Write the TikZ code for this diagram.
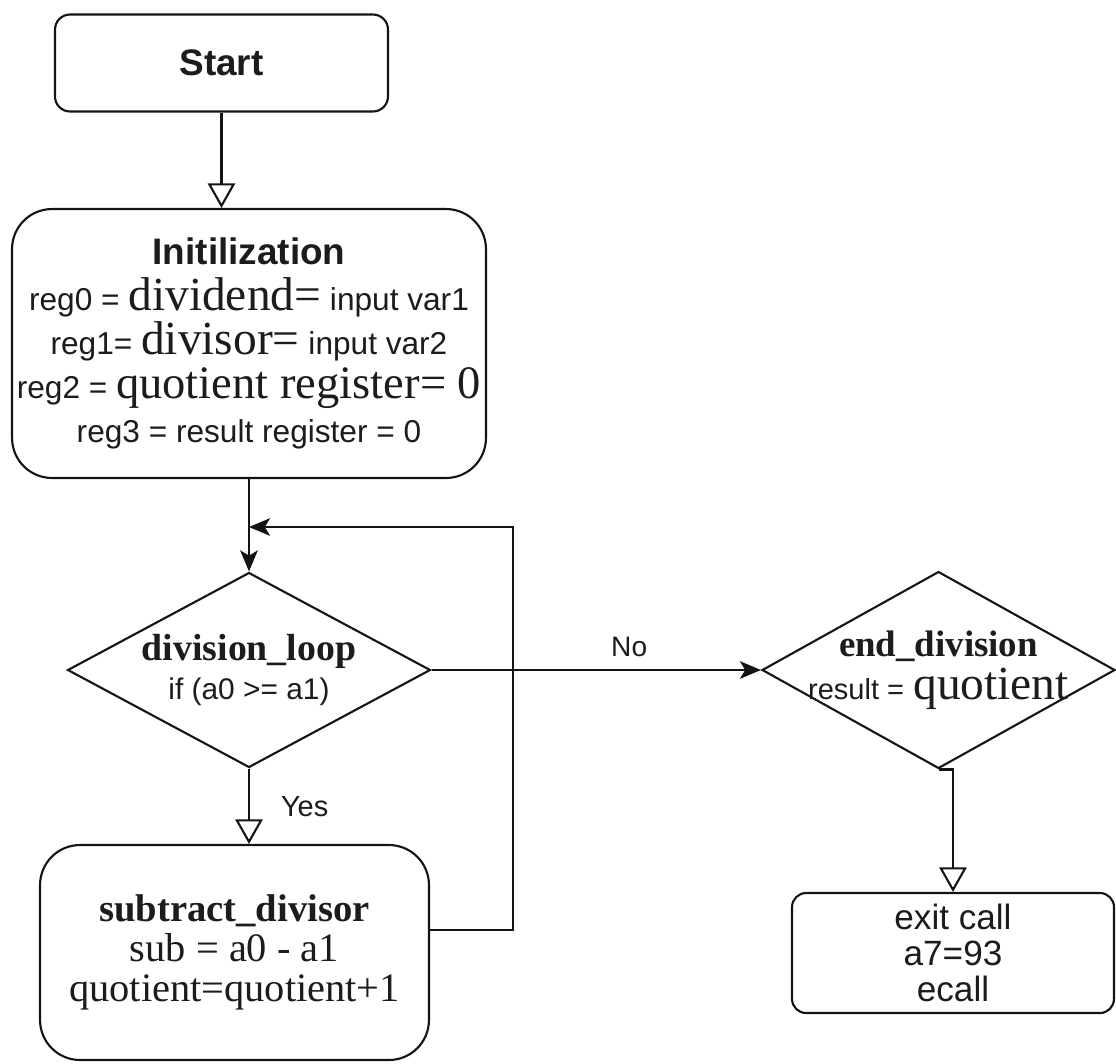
\documentclass[tikz,border=0pt]{standalone}
\usepackage{fontspec}
\setmainfont{Liberation Sans}
\newfontfamily\sans{Liberation Sans}
\newfontfamily\serif{Liberation Serif}
\usetikzlibrary{arrows.meta,shapes.geometric}
\newcommand\fsz[2]{\fontsize{#1}{#2}\selectfont}
\definecolor{txt}{RGB}{28,28,28}
\definecolor{ln}{RGB}{20,20,20}
\begin{document}
\begin{tikzpicture}[x=0.02cm,y=-0.02cm,
  line width=1.2pt, draw=ln,
  box/.style={draw=ln, rectangle, line width=1.2pt, align=center, inner sep=0pt, text=txt},
  dia/.style={draw=ln, diamond, inner sep=0pt, line width=1.2pt},
  lbl/.style={inner sep=0pt, align=center, text=txt},
  oarrow/.style={-{Triangle[open,length=14pt,width=15.5pt]}},
  farrow/.style={-{Stealth[length=12pt,width=10pt,inset=3pt]}}]
\fill[white] (0,0) rectangle (1116,1063);
\useasboundingbox (0,0) rectangle (1116,1063);

% nodes
\node[box, rounded corners=0.3cm, minimum width=6.66cm, minimum height=1.94cm,
      font=\fsz{21}{25}\bfseries] (start) at (221.5,63) {Start};

\node[box, rounded corners=0.8cm, minimum width=9.48cm, minimum height=5.38cm,
      font=\fsz{18}{25}] (init) at (249,343.5)
  {{\fsz{21}{25}\bfseries Initilization}\\[1pt]
   reg0 = {\serif\fsz{27}{25}dividend=} input var1\\
   reg1= {\serif\fsz{27}{25}divisor=} input var2\\
   reg2 = {\serif\fsz{26.5}{25}quotient register= 0}\\
   reg3 = result register = 0};

\node[dia, minimum width=7.26cm, minimum height=3.9cm] (dl) at (249,670) {};
\node[lbl, font=\serif\fsz{21.5}{22}] (dlt) at (dl.center)
  {{\bfseries division\_loop}\\{\sans\fsz{17}{22}if (a0 >= a1)}};

\node[box, rounded corners=0.8cm, minimum width=7.78cm, minimum height=4.3cm,
      font=\serif\fsz{23}{22.7}] (sub) at (234.5,952.5)
  {{\bfseries\fsz{22}{22.7}subtract\_divisor}\\
   sub = a0 - a1\\
   quotient=quotient+1};

\node[dia, minimum width=7.06cm, minimum height=3.94cm] (ed) at (938.5,670) {};
\node[lbl, font=\serif\fsz{21}{24.5}] (edt) at (ed.center)
  {{\bfseries end\_division}\\{\sans\fsz{16.5}{24.5}result =} {\fsz{27}{24.5}quotient}};

\node[box, rounded corners=0.28cm, minimum width=6.44cm, minimum height=2.4cm,
      font=\fsz{20}{20.5}] (exit) at (953,953)
  {exit call\\a7=93\\ecall};

\coordinate (lp) at (513,527);

% connectors
\draw[oarrow] (start.south) -- (start.south |- init.north);
\draw[farrow] (init.south) -- (dl.north);
\draw[oarrow] (dl.south) -- (dl.south |- sub.north)
  node[lbl, pos=0.51, anchor=west, xshift=0.62cm, font=\fsz{16.5}{18}] (yes) {Yes};
\draw[farrow] (dl.east) -- (ed.west)
  node[lbl, pos=0.6, above=6.8pt, font=\fsz{16}{18}] (no) {No};
\draw[farrow] ([yshift=0.45cm]sub.east) -| (lp) -- (lp -| dl.north);
\draw[oarrow] (ed.south) -| (exit.north);
\end{tikzpicture}
\end{document}
